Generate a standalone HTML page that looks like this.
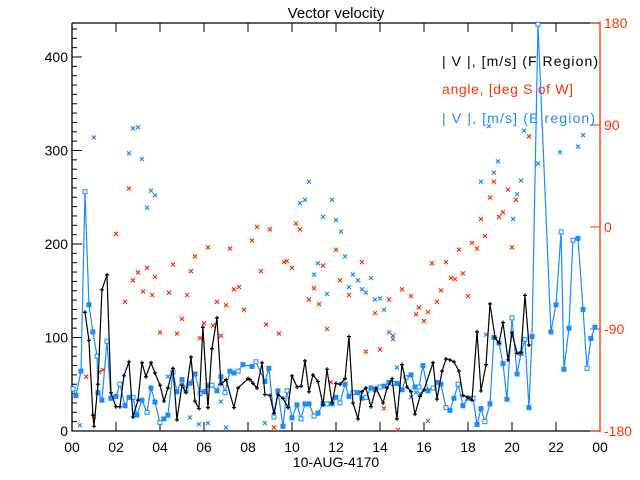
<!DOCTYPE html>
<html><head><meta charset="utf-8"><style>
html,body{margin:0;padding:0;background:#fff}
svg{display:block;font-family:"Liberation Sans",sans-serif}
</style></head><body>
<svg id="chart" width="640" height="480" viewBox="0 0 640 480" xmlns="http://www.w3.org/2000/svg">
<rect width="640" height="480" fill="#fff"/>
<text x="336" y="18" font-size="15" text-anchor="middle">Vector velocity</text>
<g id="axes"></g>
<g id="marks"></g>
<text x="336" y="467" font-size="14" text-anchor="middle">10-AUG-4170</text>
<g>
<text x="442" y="66" font-size="14" textLength="156" fill="#000">| V |, [m/s] (F Region)</text>
<text x="442" y="94" font-size="14" textLength="131" fill="#ff3300">angle, [deg S of W]</text>
<text x="442" y="123" font-size="14" textLength="153" fill="#1a8cff">| V |, [m/s] (E region)</text>
</g>
</svg>
<script>
const xTickLabels=["00","02","04","06","08","10","12","14","16","18","20","22","00"];
const yTickLabels=["0","100","200","300","400"];
const angleTickLabels=["-180","-90","0","90","180"];
const fTimes=[0.59,0.77,0.95,1.0,1.18,1.36,1.59,1.77,2.0,2.18,2.36,2.59,2.77,3.0,3.18,3.36,3.59,3.77,4.0,4.18,4.36,4.59,4.77,5.0,5.18,5.41,5.59,5.77,5.95,6.18,6.36,6.59,6.77,7.0,7.36,7.55,8.0,8.09,8.23,8.41,8.64,8.77,9.0,9.18,9.36,9.59,9.82,10.0,10.23,10.41,10.59,10.77,10.95,11.18,11.41,11.59,11.82,12.0,12.18,12.41,12.59,12.77,13.0,13.18,13.36,13.59,13.82,14.14,14.32,14.55,14.77,15.0,15.23,15.41,15.59,15.82,16.0,16.41,16.59,16.82,17.0,17.18,17.36,17.59,17.77,18.0,18.18,18.41,18.59,18.82,19.0,19.23,19.41,19.59,19.82,20.0,20.23,20.41,20.59,20.77];
const fValues=[127,97,17,5,50,151,167,41,26,26,59,74,15,33,73,58,73,62,49,32,46,67,12,49,41,79,32,24,111,25,88,121,50,55,25,46,56,55,51,46,73,39,38,19,39,35,25,59,47,48,75,42,60,53,28,66,30,51,50,56,101,30,13,42,46,26,46,30,46,56,13,71,47,42,18,37,44,73,34,64,77,76,74,64,38,36,33,106,43,71,136,100,94,116,76,105,83,84,145,92];
const eTimes=[0.05,0.18,0.41,0.59,0.77,0.95,1.14,1.18,1.36,1.59,1.77,2.0,2.18,2.41,2.59,2.77,2.95,3.18,3.41,3.59,3.77,4.0,4.18,4.36,4.59,4.77,5.0,5.18,5.36,5.59,5.82,6.0,6.18,6.36,6.59,6.77,6.95,7.18,7.36,7.55,7.77,8.18,8.36,8.77,8.95,9.18,9.36,9.59,9.77,10.0,10.23,10.41,10.59,10.77,11.0,11.18,11.41,11.59,11.82,12.0,12.18,12.41,12.59,12.77,13.0,13.18,13.36,13.59,13.77,14.0,14.18,14.41,14.59,14.77,15.0,15.18,15.41,15.59,15.77,15.95,16.18,16.41,16.59,16.77,17.0,17.18,17.36,17.55,17.77,18.0,18.23,18.41,18.59,18.77,19.0,19.18,19.41,19.59,19.77,20.0,20.23,20.41,20.59,20.77,20.91,21.18,21.77,22.0,22.23,22.36,22.59,22.77,23.0,23.23,23.41,23.59,23.77];
const eValues=[45,38,64,256,135,106,80,41,33,96,35,37,50,27,36,36,17,33,20,46,31,9,13,17,63,42,55,44,51,61,40,42,49,49,43,58,41,64,62,64,71,69,74,53,67,15,43,5,43,14,28,13,29,29,16,19,29,29,29,36,30,50,37,41,41,35,36,46,44,47,48,52,51,51,44,57,60,47,47,70,43,46,52,50,25,22,35,50,27,35,35,7,24,10,29,100,94,72,34,121,61,83,98,25,101,435,106,135,213,66,110,204,206,130,67,99,111];
const angleTimes=[0.64,1.0,1.23,1.41,2.0,2.41,2.59,2.77,3.0,3.23,3.41,3.64,3.77,4.0,4.41,4.59,4.77,5.0,5.23,5.41,5.59,5.82,6.0,6.18,6.41,6.59,6.77,7.0,7.18,7.36,7.59,7.82,8.18,8.41,8.59,8.82,9.0,9.18,9.41,9.64,9.77,10.0,10.18,10.36,10.77,11.0,11.23,11.41,11.59,11.77,12.0,12.18,12.59,13.18,13.36,13.77,14.0,14.18,14.41,14.59,14.82,15.0,15.41,15.64,15.77,16.0,16.18,16.36,16.59,16.77,17.0,17.23,17.41,17.59,17.77,18.0,18.18,18.41,18.59,18.77,19.0,19.18,19.41,19.59,19.82,20.0,20.18,20.77];
const angleValues=[-132,-167,-128,-126,-6,-66,34,-47,-40,-57,-36,-60,-44,-93,-58,-33,-94,-81,-60,-39,-26,-98,-85,-18,-87,-66,-96,-69,-19,-55,-53,-73,-12,0,-39,-86,-2,-177,-94,-31,-30,-36,3,-2,-64,-54,-68,-34,-90,-137,-20,-47,-60,-31,-110,-76,-108,-160,-64,-96,-179,-55,-61,-77,-71,-83,-75,-32,-66,-56,-31,-45,-46,-20,-41,-61,-14,-19,7,-8,26,40,9,13,33,-18,24,80];
const eAngleTimes=[0.36,1.0,2.59,2.77,3.0,3.18,3.41,3.59,3.77,4.36,5.36,5.77,6.18,6.77,7.0,8.77,10.36,10.59,10.77,11.0,11.18,11.41,11.59,11.82,12.0,12.23,12.41,12.59,12.77,13.0,13.18,13.36,13.59,13.77,14.0,14.18,14.41,14.59,14.77,15.18,15.41,15.64,15.82,16.18,18.82,18.59,18.95,19.18,19.36,20.05,20.23,20.41,20.55,21.18,22.18,23.0,23.23];
const eAngleValues=[-175,79,65,87,88,60,17,32,28,-132,-168,-174,-173,-154,-177,-173,21,24,40,-42,-32,9,-59,24,6,-4,-26,-53,-42,-47,-55,-58,-45,-64,-63,-73,-93,-99,-124,-133,-150,-146,-147,-171,-95,40,89,48,58,7,29,41,85,56,66,71,81];

const NS="http://www.w3.org/2000/svg";
const X0=72,X1=600,Y0=431,YT=23;
function xs(h){return X0+(X1-X0)*h/24;}
function ys(v){return Y0-v*0.935;}
function as(d){return Y0-(d+180)*(Y0-YT)/360;}
function mk(tag,attrs,parent){const e=document.createElementNS(NS,tag);for(const k in attrs)e.setAttribute(k,attrs[k]);parent.appendChild(e);return e;}
const axes=document.getElementById('axes'),marks=document.getElementById('marks');
const BLUE="#1a8cff",RED="#ff3300";
let el;
el=mk('path',{d:`M${X0},${YT}H${X1}M${X0},${YT}V${Y0}H${X1}`,stroke:'#000','stroke-width':1.3,fill:'none'},axes);


for(let v=0;v<=430;v+=10){const big=v%100===0;
 el=mk('line',{x1:X0,x2:X0+(big?10:5),y1:ys(v),y2:ys(v),stroke:'#000'},axes);
 
 }
yTickLabels.forEach(t=>{el=mk('text',{x:X0-4,y:ys(+t)+5,'font-size':14,'text-anchor':'end'},axes);el.textContent=t;
 
 });
xTickLabels.forEach((t,i)=>{const x=xs(i*2);
 if(i>0&&i<12){el=mk('path',{d:`M${x},${Y0}v-9M${x},${YT}v9`,stroke:'#000'},axes);
 
 }
 el=mk('text',{x:x,y:452,'font-size':14,'text-anchor':'middle'},axes);el.textContent=t;
 
 });
el=mk('line',{x1:X1,x2:X1,y1:YT-1,y2:Y0+1,stroke:RED,'stroke-width':1.3},axes);


angleTickLabels.forEach(t=>{const y=as(+t);
 el=mk('line',{x1:X1-10,x2:X1,y1:y,y2:y,stroke:RED},axes);
 
 
 el=mk('text',{x:X1+4,y:y+5,'font-size':14,fill:RED},axes);el.textContent=t;
 
 });
function cross(x,y,c,name){el=mk('path',{d:`M${x-2},${y-2}l4,4M${x+2},${y-2}l-4,4`,stroke:c,'stroke-width':1.2},marks);
 
 }
angleTimes.forEach((h,i)=>cross(xs(h),as(angleValues[i]),RED,'angle-point'));
eAngleTimes.forEach((h,i)=>cross(xs(h),as(eAngleValues[i]),BLUE,'e-angle-point'));
el=mk('polyline',{points:eTimes.map((h,i)=>xs(h)+','+ys(eValues[i])).join(' '),fill:'none',stroke:BLUE,'stroke-width':1.2},marks);


eTimes.forEach((h,i)=>{const x=xs(h),y=ys(eValues[i]);
 el=mk('rect',{x:x-2,y:y-2,width:4,height:4,fill:(i%3===0)?'#fff':BLUE,stroke:BLUE,'stroke-width':1},marks);
 
 });
el=mk('polyline',{points:fTimes.map((h,i)=>xs(h)+','+ys(fValues[i])).join(' '),fill:'none',stroke:'#000','stroke-width':1.2},marks);


fTimes.forEach((h,i)=>{const x=xs(h),y=ys(fValues[i]);
 el=mk('path',{d:`M${x-2},${y}h4M${x},${y-2}v4`,stroke:'#000','stroke-width':1.2},marks);
 
 });
</script>
</body></html>
